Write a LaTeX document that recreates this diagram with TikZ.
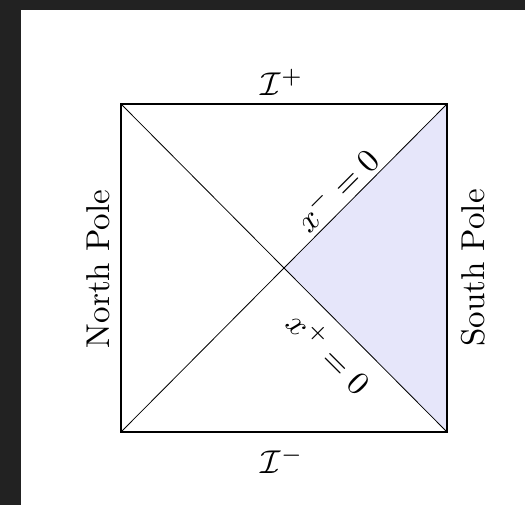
\documentclass[tikz,border=0pt]{standalone}
\definecolor{bgdark}{RGB}{34,34,34}
\definecolor{wedge}{RGB}{230,230,250}
\begin{document}
\begin{tikzpicture}[x=1pt,y=-1pt,
  lbl/.style={scale=3.3, inner sep=0pt},
  frame/.style={line width=1.8pt, line join=miter},
  diag/.style={line width=0.8pt}]
\useasboundingbox (0,0) rectangle (525,505);
\fill[bgdark] (0,0) rectangle (525,505);
\fill[white] (21,10) rectangle (525,505);
\coordinate (tl) at (121,104);
\coordinate (tr) at (447,104);
\coordinate (bl) at (121,432);
\coordinate (br) at (447,432);
\coordinate (c) at (284,268);
\fill[wedge] (c) -- (tr) -- (br) -- cycle;
\draw[diag] (tl) -- (br);
\draw[diag] (bl) -- (tr);
\draw[frame] (tl) rectangle (br);
\node[lbl] (scrip) at (282,82) {$\mathcal{I}^+$};
\node[lbl] (scrim) at (282,460) {$\mathcal{I}^-$};
\node[lbl, rotate=90] (north) at (98.5,269) {North Pole};
\node[lbl, rotate=90] (south) at (473.5,268) {South Pole};
\node[lbl, rotate=45] (xm) at (336,189) {$x^- = 0$};
\node[lbl, rotate=-45] (xp) at (330,352) {$x^+ = 0$};
\end{tikzpicture}
\end{document}
